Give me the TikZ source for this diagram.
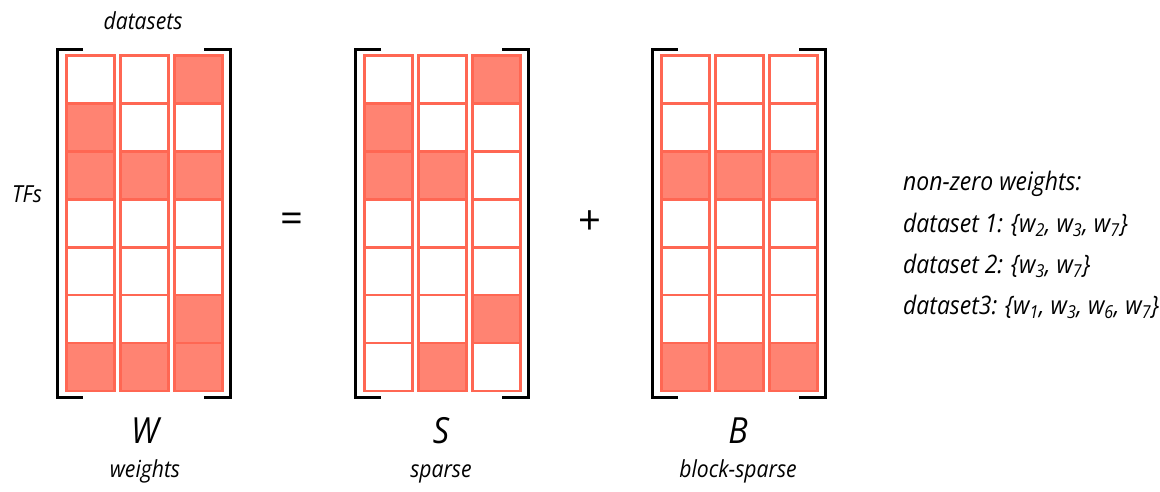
\documentclass[tikz,border=0pt]{standalone}
\usepackage{fontspec}
\setmainfont{Open Sans}
\newfontfamily\narrowsans{Open Sans}[FakeStretch=0.9]
\definecolor{cellfill}{RGB}{255,131,114}
\definecolor{celledge}{RGB}{255,103,83}

% #1 name, #2 left edge of the cells, #3 rows as a/b/c with 1 = filled
\newcommand\cellgrid[3]{%
  \foreach \a/\b/\cc [count=\r] in {#3}{
    \node[cell,f\a] (#1-\r-1) at ({#2+1.3},{54.3+(\r-1)*47.9}) {};
    \node[cell,f\b] (#1-\r-2) at ({#2+1.3+54},{54.3+(\r-1)*47.9}) {};
    \node[cell,f\cc] (#1-\r-3) at ({#2+1.3+108},{54.3+(\r-1)*47.9}) {};
  }
  \draw[brk] ({#2+19},49) -| ({#2-7},397) -- ({#2+19},397);
  \draw[brk] ({#2+140},49) -| ({#2+166.5},397) -- ({#2+140},397);
}

\begin{document}
\begin{tikzpicture}[x=1pt,y=-1pt,
  cell/.style={draw=celledge, line width=2.6pt, inner sep=0pt,
    minimum width=47.9pt, minimum height=47.9pt, anchor=north west},
  f0/.style={fill=white},
  f1/.style={fill=cellfill},
  brk/.style={line width=3pt, black},
  lab/.style={font=\narrowsans\itshape\fontsize{23.5}{26}\selectfont, inner sep=0pt, anchor=base},
  letter/.style={font=\narrowsans\itshape\fontsize{36}{40}\selectfont, inner sep=0pt, anchor=base},
  op/.style={font=\fontsize{40}{44}\selectfont, inner sep=0pt},
  note/.style={font=\narrowsans\itshape\fontsize{25.5}{28}\selectfont, inner sep=0pt, anchor=base west}]

\useasboundingbox (0,0) rectangle (1160,491);

\cellgrid{W}{64}{0/0/1,1/0/0,1/1/1,0/0/0,0/0/0,0/0/1,1/1/1}
\cellgrid{S}{362}{0/0/1,1/0/0,1/1/0,0/0/0,0/0/0,0/0/1,0/1/0}
\cellgrid{B}{659}{0/0/0,0/0/0,1/1/1,0/0/0,0/0/0,0/0/0,1/1/1}

% axis labels
\node[lab] (datasets) at (143,29) {datasets};
\node[lab] (tfs) at (27,202) {TFs};

% operators
\node[op] (eq) at (292,223) {=};
\node[op] (plus) at (590,223) {+};

% matrix names
\node[letter] (Wname) at (145,443) {W};
\node[letter] (Sname) at (441,443) {S};
\node[letter] (Bname) at (738,443) {B};
\node[lab] (Wdesc) at (145,477) {weights};
\node[lab] (Sdesc) at (441,477) {sparse};
\node[lab] (Bdesc) at (738,477) {block-sparse};

% non-zero weights per dataset
\node[note] (n0) at (903,190) {non-zero weights:};
\node[note] (n1) at (903,232) {dataset 1: \{w\textsubscript{2}, w\textsubscript{3}, w\textsubscript{7}\}};
\node[note] (n2) at (903,273) {dataset 2: \{w\textsubscript{3}, w\textsubscript{7}\}};
\node[note] (n3) at (903,314) {dataset3: \{w\textsubscript{1}, w\textsubscript{3}, w\textsubscript{6}, w\textsubscript{7}\}};
\end{tikzpicture}
\end{document}
